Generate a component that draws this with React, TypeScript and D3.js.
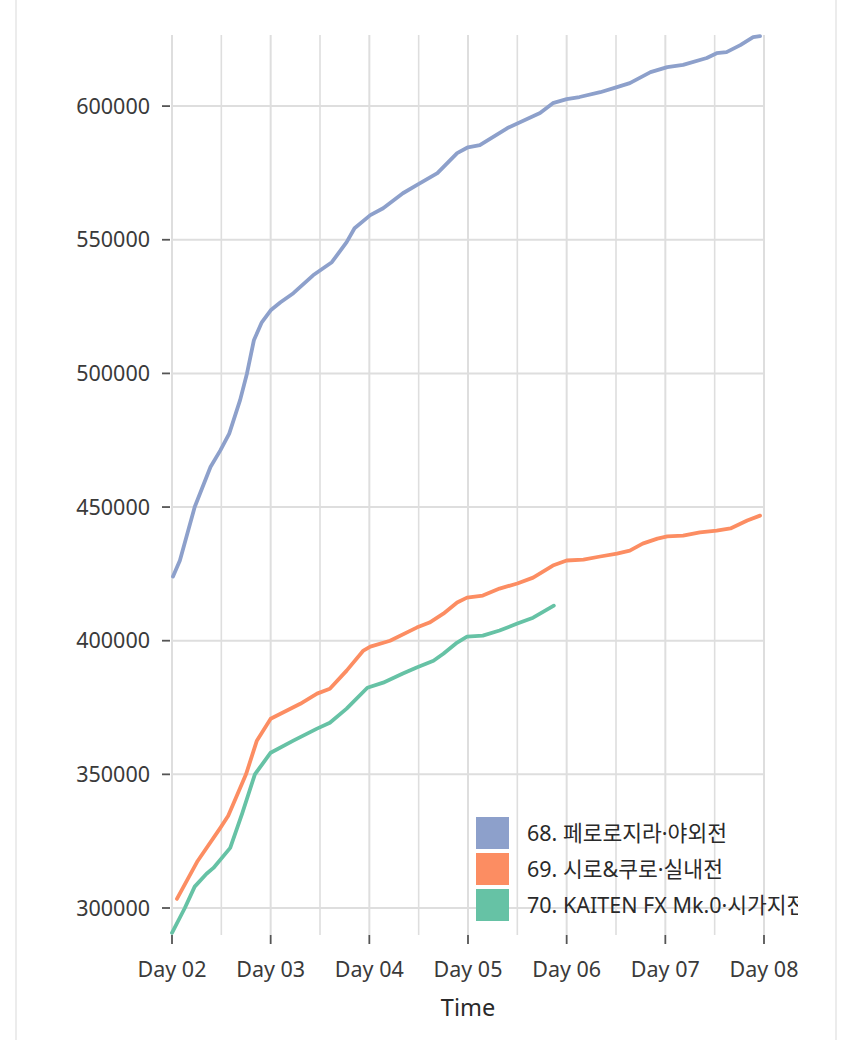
import React from "react";
import * as d3 from "d3";

// Time in days (Day 02 .. Day 08)
const series68Days = [2.01, 2.08, 2.23, 2.39, 2.49, 2.58, 2.69, 2.76, 2.83, 2.91, 3.0, 3.1, 3.23, 3.43, 3.62, 3.77, 3.85, 4.01, 4.14, 4.34, 4.48, 4.69, 4.82, 4.89, 5.0, 5.12, 5.4, 5.73, 5.86, 6.0, 6.13, 6.34, 6.51, 6.64, 6.85, 7.02, 7.18, 7.42, 7.52, 7.62, 7.76, 7.89, 7.96];
const series68Values = [424000, 430000, 450000, 465000, 471200, 477500, 490000, 500000, 512400, 519100, 523600, 526600, 530000, 536700, 541600, 549100, 554300, 559200, 561800, 567400, 570400, 574900, 579800, 582400, 584600, 585400, 591800, 597400, 601100, 602600, 603400, 605200, 607100, 608600, 612700, 614600, 615400, 618000, 619800, 620200, 622800, 625800, 626200];

const series69Days = [2.05, 2.26, 2.49, 2.57, 2.75, 2.86, 3.0, 3.3, 3.47, 3.6, 3.77, 3.94, 4.01, 4.21, 4.48, 4.61, 4.75, 4.89, 4.99, 5.15, 5.32, 5.5, 5.66, 5.86, 6.0, 6.17, 6.34, 6.51, 6.64, 6.77, 6.92, 7.02, 7.18, 7.35, 7.52, 7.66, 7.83, 7.96];
const series69Values = [303400, 317600, 330000, 334500, 350000, 362600, 370800, 376400, 380200, 382000, 388800, 396300, 397800, 400000, 404900, 406800, 410100, 414300, 416100, 416900, 419500, 421400, 423600, 428100, 430000, 430300, 431500, 432600, 433700, 436300, 438200, 439000, 439300, 440500, 441200, 442000, 445000, 446800];

const series70Days = [2.0, 2.13, 2.23, 2.35, 2.42, 2.59, 2.71, 2.84, 3.0, 3.23, 3.47, 3.6, 3.77, 3.98, 4.14, 4.34, 4.48, 4.65, 4.75, 4.89, 4.99, 5.15, 5.32, 5.5, 5.66, 5.87];
const series70Values = [290700, 300000, 308000, 312800, 315000, 322500, 335200, 350000, 358100, 362600, 367100, 369300, 374600, 382400, 384300, 387700, 390000, 392500, 395100, 399300, 401500, 401900, 403800, 406400, 408600, 413100];

const seriesNames = ["68. 페로로지라·야외전", "69. 시로&쿠로·실내전", "70. KAITEN FX Mk.0·시가지전"];
const seriesColors = ["#8DA0CB", "#FC8D62", "#66C2A5"];

const xTickDays = [2, 3, 4, 5, 6, 7, 8];
const xTickLabels = ["Day 02", "Day 03", "Day 04", "Day 05", "Day 06", "Day 07", "Day 08"];
const xMinorDays = [2.5, 3.5, 4.5, 5.5, 6.5, 7.5];
const yTicks = [300000, 350000, 400000, 450000, 500000, 550000, 600000];

const W = 850;
const H = 1040;
const left = 172;
const right = 764;
const top = 35;
const bottom = 935;

export default function App() {
  const x = d3.scaleLinear().domain([2, 8]).range([left, right]);
  const y = d3.scaleLinear().domain([289900, 626600]).range([bottom, top]);

  const data = [
    series68Days.map((d, i) => [d, series68Values[i]]),
    series69Days.map((d, i) => [d, series69Values[i]]),
    series70Days.map((d, i) => [d, series70Values[i]]),
  ];

  const line = d3
    .line<number[]>()
    .x((d) => x(d[0]))
    .y((d) => y(d[1]));

  const font = "'Noto Sans', 'Noto Sans CJK KR', sans-serif";
  const grid = "#dedede";

  return (
    <svg
      width={W}
      height={H}
      style={{ position: "absolute", left: 0, top: 0, background: "#fff" }}
      fontFamily={font}
    >
      <defs>
        <clipPath id="legclip">
          <rect x={0} y={0} width={798} height={H} />
        </clipPath>
      </defs>
      <line x1={16} x2={16} y1={0} y2={H} stroke="#ececec" strokeWidth={2} />
      <line x1={836} x2={836} y1={0} y2={H} stroke="#ececec" strokeWidth={2} />

      {/* minor vertical grid */}
      {xMinorDays.map((d) => (
        <line key={"mn" + d} x1={x(d)} x2={x(d)} y1={top} y2={bottom} stroke={grid} strokeWidth={1.6} />
      ))}
      {/* major grid */}
      {xTickDays.map((d) => (
        <line key={"mx" + d} x1={x(d)} x2={x(d)} y1={top} y2={bottom} stroke={grid} strokeWidth={2} />
      ))}
      {yTicks.map((v) => (
        <line key={"my" + v} x1={left} x2={right} y1={y(v)} y2={y(v)} stroke={grid} strokeWidth={2} />
      ))}

      {/* lines */}
      {data.map((s, i) => (
        <path
          key={"s" + i}
          d={line(s) || ""}
          fill="none"
          stroke={seriesColors[i]}
          strokeWidth={3.8}
          strokeLinejoin="round"
          strokeLinecap="round"
        />
      ))}

      {/* y axis */}
      {yTicks.map((v) => (
        <g key={"yt" + v}>
          <line x1={162} x2={170} y1={y(v)} y2={y(v)} stroke="#555" strokeWidth={1.8} />
          <text x={150} y={y(v)} dy="0.36em" textAnchor="end" fontSize={21.5} fill="#3a3a3a">
            {v}
          </text>
        </g>
      ))}

      {/* x axis */}
      {xTickDays.map((d, i) => (
        <g key={"xt" + d}>
          <line x1={x(d)} x2={x(d)} y1={935} y2={944} stroke="#555" strokeWidth={1.8} />
          <text x={x(d)} y={977} textAnchor="middle" fontSize={21.5} fill="#3a3a3a">
            {xTickLabels[i]}
          </text>
        </g>
      ))}
      <text x={(left + right) / 2} y={1016} textAnchor="middle" fontSize={23.5} fill="#2a2a2a">
        Time
      </text>

      {/* legend */}
      <g clipPath="url(#legclip)">
        {seriesNames.map((n, i) => (
          <g key={"lg" + i}>
            <rect x={476} y={817 + i * 36} width={33} height={32} fill={seriesColors[i]} />
            <text x={527} y={817 + i * 36 + 16} dy="0.36em" fontSize={21.5} fill="#2a2a2a">
              {n}
            </text>
          </g>
        ))}
      </g>
    </svg>
  );
}
